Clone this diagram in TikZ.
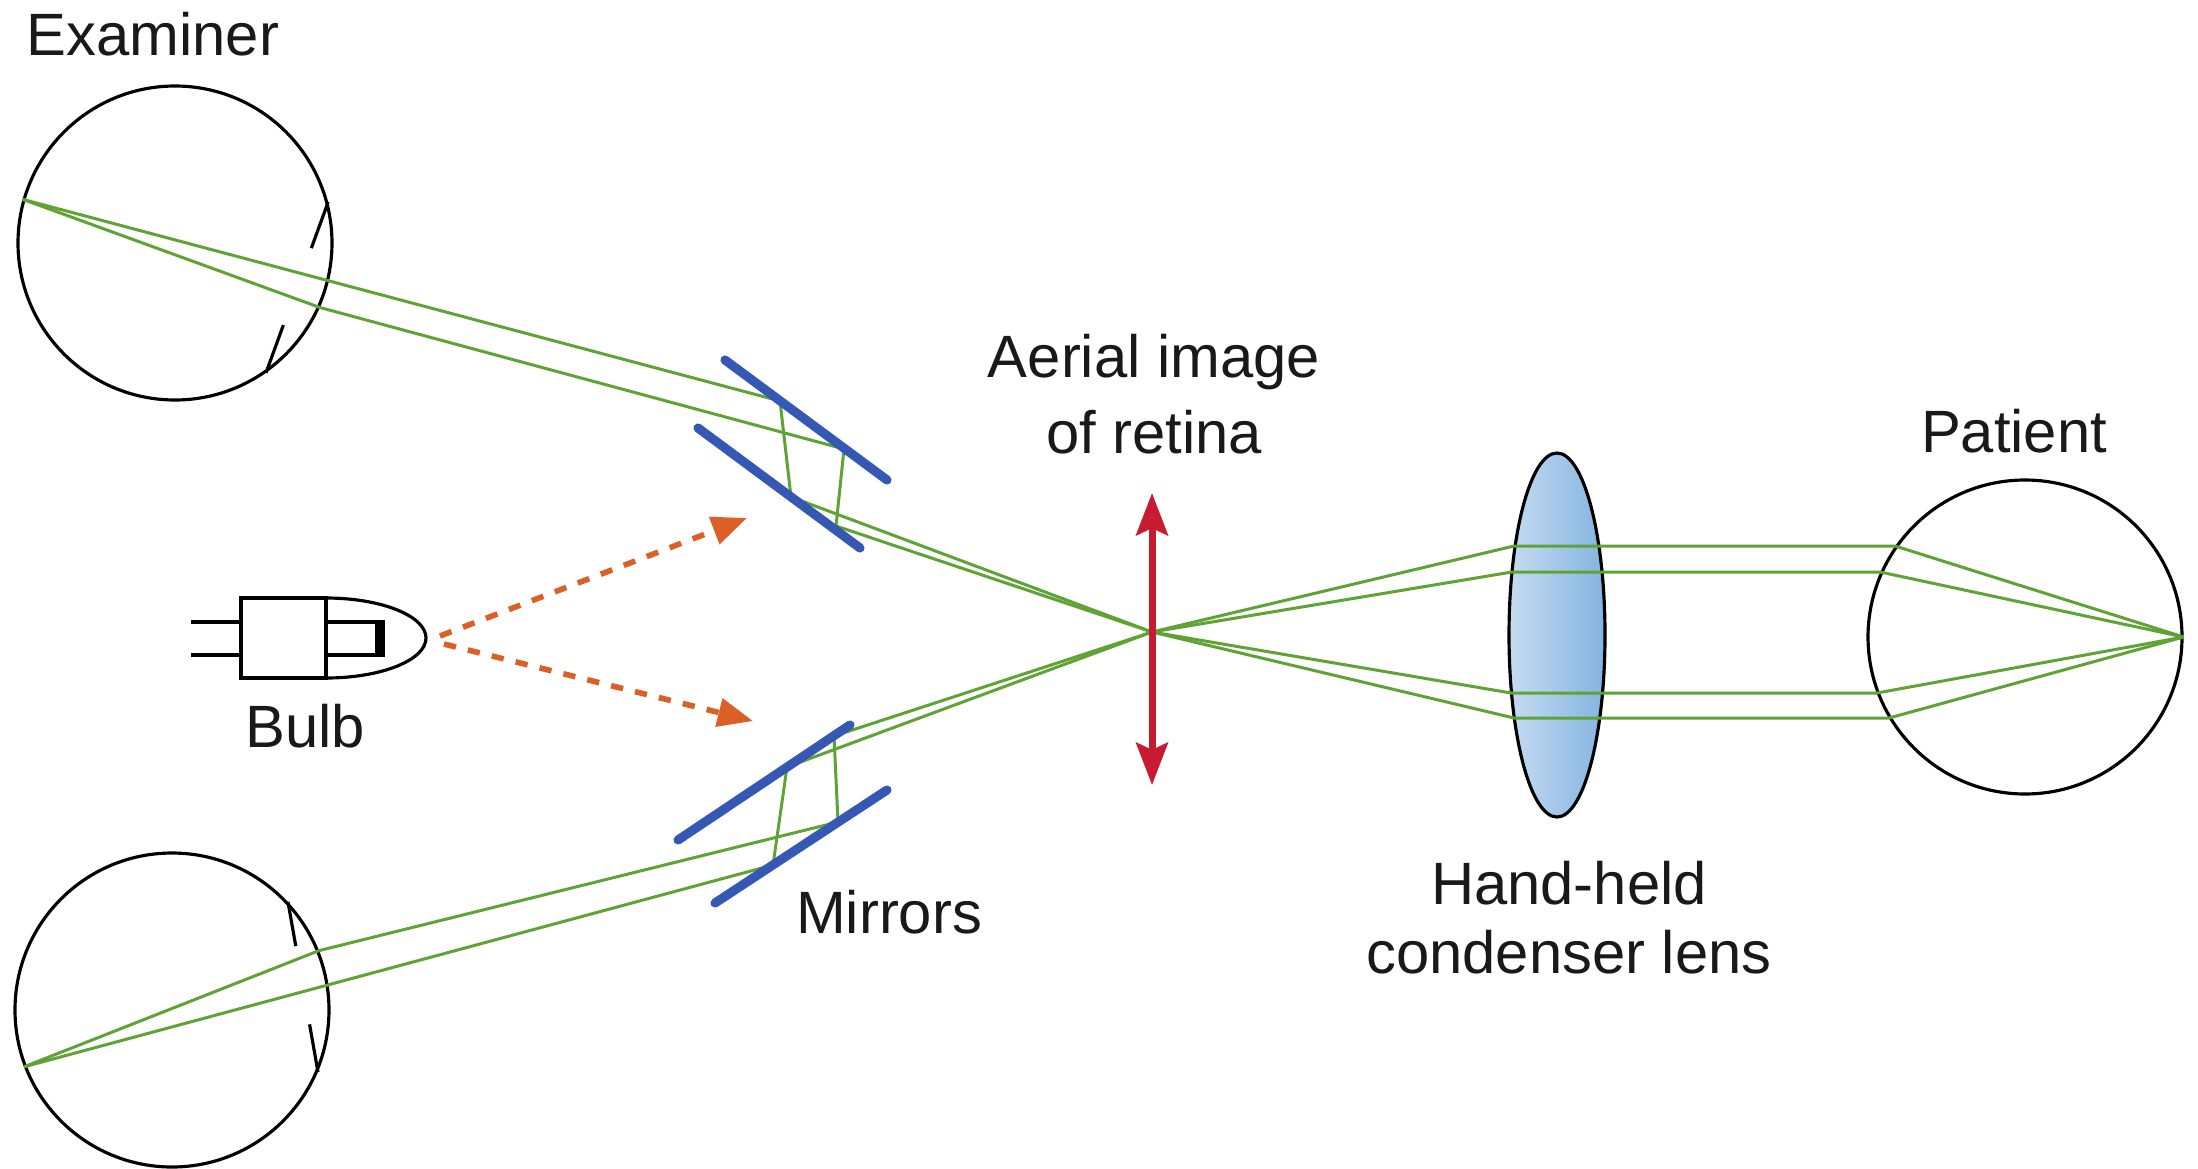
\documentclass[tikz,border=0pt]{standalone}
\usepackage{fontspec}
\setmainfont{Liberation Sans}
\usetikzlibrary{arrows.meta,shapes.geometric,calc}
\definecolor{raygreen}{HTML}{5FA334}
\definecolor{mirrorblue}{HTML}{3558B5}
\definecolor{beamorange}{HTML}{DB5F26}
\definecolor{imagered}{HTML}{C81A30}
\definecolor{lensblue}{HTML}{6FA6DC}

\tikzset{
  eyeball/.style={circle, draw, line width=0.9pt, minimum size=3.14cm, inner sep=0pt},
  iris/.style={line width=0.9pt},
  condenser/.style={ellipse, draw, line width=0.9pt, minimum width=0.96cm, minimum height=3.64cm, inner sep=0pt,
    left color=lensblue!40, middle color=lensblue!10, right color=lensblue!85},
  ray/.style={draw=raygreen, line width=0.85pt, line join=round},
  mirror/.style={draw=mirrorblue, line width=2.6pt, line cap=round},
  beam/.style={draw=beamorange, line width=1.6pt, dash pattern=on 3.5pt off 3.5pt, -{Triangle[length=10pt,width=8pt]}},
  imagearrow/.style={draw=imagered, line width=2pt, {Stealth[length=12pt,width=9pt,inset=2pt]}-{Stealth[length=12pt,width=9pt,inset=2pt]}},
  label/.style={font=\fontsize{17}{20}\selectfont, text=black!90, inner sep=0pt, align=center},
}

\begin{document}
\begin{tikzpicture}[x=0.1mm, y=-0.1mm]
  \useasboundingbox[fill=white] (0,0) rectangle (2198,1168);

  % eyes
  \node[eyeball] (examinerA) at (175,243) {};
  \node[eyeball] (examinerB) at (172,1010) {};
  \node[eyeball] (patient) at (2025,637) {};

  % iris of the examiner eyes
  \draw[iris] (examinerA.15) -- ($(examinerA.15)!0.27!(examinerA.-55)$)
              ($(examinerA.15)!0.72!(examinerA.-55)$) -- (examinerA.-55);
  \draw[iris] (examinerB.43) -- ($(examinerB.43)!0.26!(examinerB.-23)$)
              ($(examinerB.43)!0.72!(examinerB.-23)$) -- (examinerB.-23);

  % condenser lens
  \node[condenser] (lens) at (1557,635) {};

  % points on the mirrors and the lens
  \coordinate (aerial) at (1152,632);
  \coordinate (mA1) at (780,401);
  \coordinate (mA2) at (844,449);
  \coordinate (mB1) at (791,497);
  \coordinate (mB2) at (836,526);
  \coordinate (mC1) at (787,767);
  \coordinate (mC2) at (834,736);
  \coordinate (mD1) at (773,865);
  \coordinate (mD2) at (838,822);
  \coordinate (lensA) at (1514,546);
  \coordinate (lensB) at (1512,572);
  \coordinate (lensC) at (1511,693);
  \coordinate (lensD) at (1514,718);

  % rays to the examiner
  \draw[ray] (examinerA.164) -- (mA1) -- (mB1) -- (aerial);
  \draw[ray] (examinerA.164) -- (examinerA.-24) -- (mA2) -- (mB2) -- (aerial);
  \draw[ray] (examinerB.-159) -- (mD1) -- (mC1) -- (aerial);
  \draw[ray] (examinerB.-159) -- (examinerB.22) -- (mD2) -- (mC2) -- (aerial);

  % rays from the patient
  \draw[ray] (aerial) -- (lensA) -- (lensA -| patient.145) -- (patient.east);
  \draw[ray] (aerial) -- (lensB) -- (lensB -| patient.156) -- (patient.east);
  \draw[ray] (aerial) -- (lensC) -- (lensC -| patient.-159) -- (patient.east);
  \draw[ray] (aerial) -- (lensD) -- (lensD -| patient.-149) -- (patient.east);

  % mirrors
  \draw[mirror] (725,360) -- (887,480);
  \draw[mirror] (698,428) -- (860,548);
  \draw[mirror] (678,840) -- (850,725);
  \draw[mirror] (715,903) -- (887,790);

  % aerial image
  \coordinate (imgtop) at (1152,493);
  \coordinate (imgbot) at (1152,785);
  \draw[imagearrow] (imgtop) -- (imgbot);

  % bulb
  \draw[line width=1.3pt] (191,622) -- (241,622) (191,655) -- (241,655);
  \draw[line width=0.9pt] (241,598) rectangle (326,678);
  \draw[line width=0.9pt] (326,598) arc[start angle=-90, end angle=90, x radius=100, y radius=40];
  \draw[line width=0.9pt] (326,622) -- (380,622) (326,655) -- (380,655);
  \draw[line width=2.6pt] (380,620) -- (380,657);

  % light from the bulb
  \coordinate (bulbtipA) at (440,636);
  \coordinate (bulbtipB) at (444,644);
  \coordinate (beamup) at (747,518);
  \coordinate (beamdown) at (753,721);
  \draw[beam] (bulbtipA) -- (beamup);
  \draw[beam] (bulbtipB) -- (beamdown);

  % labels
  \node[label, anchor=base west] (examinerlbl) at (26,55) {Examiner};
  \node[label, anchor=base, font=\fontsize{17}{21.6}\selectfont] (aeriallbl) at (1154,453) {Aerial image\\of retina};
  \node[label, anchor=base] (patientlbl) at (2014,452) {Patient};
  \node[label, anchor=base] (bulblbl) at (305,747) {Bulb};
  \node[label, anchor=base] (mirrorlbl) at (889,933) {Mirrors};
  \node[label, anchor=base, font=\fontsize{17}{19.4}\selectfont] (lenslbl) at (1569,973) {Hand-held\\condenser lens};
\end{tikzpicture}
\end{document}
